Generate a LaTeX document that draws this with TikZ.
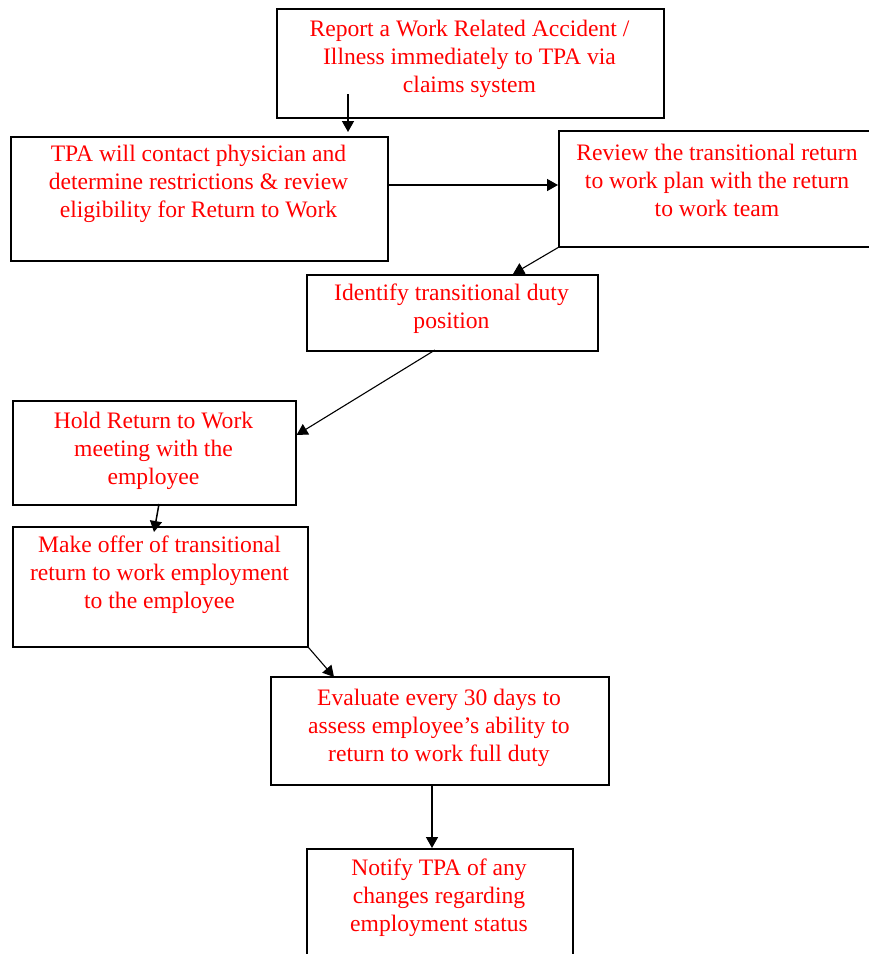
\documentclass[tikz,border=0pt]{standalone}
\usepackage{fontspec}
\setmainfont{Liberation Serif}
\usetikzlibrary{arrows.meta}
\begin{document}
\begin{tikzpicture}[x=1pt,y=-1pt,
  box/.style={draw=black,line width=1.6pt,inner sep=0pt,anchor=north west},
  txt/.style={text=red,align=center,inner sep=0pt,font=\fontsize{23.6}{28}\selectfont},
  arr/.style={draw=black,line width=1.5pt,-{Triangle[length=11pt,width=12pt]}},
  darr/.style={draw=black,line width=1.1pt,-{Triangle[length=11pt,width=12pt]}}]
\useasboundingbox (0,0) rectangle (869,954);
% boxes
\node[box,minimum width=387pt,minimum height=109pt] (b1) at (276,8) {};
\node[box,minimum width=377pt,minimum height=124pt] (b2) at (10,136) {};
\node[box,minimum width=318pt,minimum height=116pt] (b3) at (558,130) {};
\node[box,minimum width=291pt,minimum height=76pt] (b4) at (306,274) {};
\node[box,minimum width=283pt,minimum height=104pt] (b5) at (12,400) {};
\node[box,minimum width=295pt,minimum height=120pt] (b6) at (12,526) {};
\node[box,minimum width=338pt,minimum height=108pt] (b7) at (270,676) {};
\node[box,minimum width=266pt,minimum height=130pt] (b8) at (306,848) {};
% texts
\node[txt] (t1) at (469.5,59) {Report a Work Related Accident /\\Illness immediately to TPA via\\claims system};
\node[txt] (t2) at (198.5,184) {TPA will contact physician and\\determine restrictions \& review\\eligibility for Return to Work};
\node[txt] (t3) at (717,180) {Review the transitional return\\to work plan with the return\\to work team};
\node[txt] (t4) at (451.5,309) {Identify transitional duty\\position};
\node[txt] (t5) at (153.5,451) {Hold Return to Work\\meeting with the\\employee};
\node[txt] (t6) at (159.5,575) {Make offer of transitional\\return to work employment\\to the employee};
\node[txt] (t7) at (439,728) {Evaluate every 30 days to\\assess employee’s ability to\\return to work full duty};
\node[txt] (t8) at (439,898) {Notify TPA of any\\changes regarding\\employment status};
% connectors
\coordinate (a1s) at (348,94);
\draw[arr,shorten >=4pt] (a1s) -- (a1s |- b2.north);
\draw[arr] (b2.east |- 0,185) -- (b3.west |- 0,185);
\draw[darr] (b3.south west) -- (513,274);
\draw[darr] (435,350) -- (b5.east |- 0,435);
\draw[arr] (159,504) -- (154,532);
\draw[darr] (b6.south east) -- (334,677);
\draw[arr] (b7.south -| 432,0) -- (432,848);
\end{tikzpicture}
\end{document}
